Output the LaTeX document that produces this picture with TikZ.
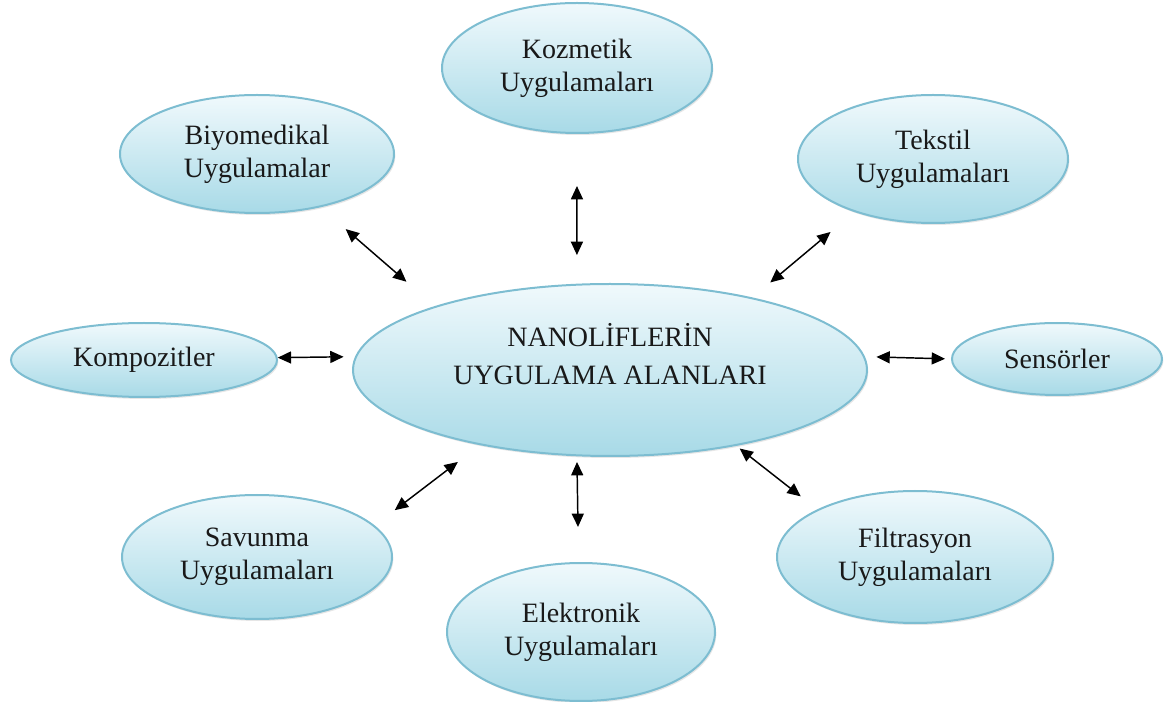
\documentclass[tikz,border=0pt]{standalone}
\usepackage{fontspec}
\setmainfont{Liberation Serif}
\usetikzlibrary{shapes.geometric, arrows.meta, shadows}

\definecolor{bubbletop}{HTML}{F0F9FC}
\definecolor{bubblebottom}{HTML}{A8DAE7}
\definecolor{bubbleline}{HTML}{7DBDD1}

\tikzset{
    bubble/.style={ellipse, draw=bubbleline, line width=1.5pt, top color=bubbletop, bottom color=bubblebottom,
        inner sep=0pt, align=center, text=black!90, font=\fontsize{21}{24.5}\selectfont,
        drop shadow={shadow xshift=1pt, shadow yshift=-1.5pt, opacity=.2}},
    link/.style={<->, >={Triangle[length=10pt,width=9pt]}, line width=1.1pt}
}

\begin{document}
\begin{tikzpicture}[x=0.75pt, y=-0.75pt]
    \useasboundingbox (0,0) rectangle (1165,702);

    \node[bubble, minimum width=385.5pt, minimum height=129pt, font=\fontsize{21}{28.5}\selectfont,
          text height=42pt, text depth=19.5pt] (main) at (610,370) {NANOLİFLERİN\\UYGULAMA ALANLARI};
    \node[bubble, minimum width=202.5pt, minimum height=97.5pt] (kozmetik)    at (577,68)   {Kozmetik\\Uygulamaları};
    \node[bubble, minimum width=205.5pt, minimum height=88.5pt] (biyomedikal) at (257,154)  {Biyomedikal\\Uygulamalar};
    \node[bubble, minimum width=202.5pt, minimum height=96pt]   (tekstil)     at (933,159)  {Tekstil\\Uygulamaları};
    \node[bubble, minimum width=199.5pt, minimum height=55.5pt] (kompozit)    at (144,360)  {Kompozitler};
    \node[bubble, minimum width=157.5pt, minimum height=54pt]   (sensor)      at (1057,359) {Sensörler};
    \node[bubble, minimum width=202.5pt, minimum height=93pt]   (savunma)     at (257,557)  {Savunma\\Uygulamaları};
    \node[bubble, minimum width=201pt,   minimum height=103.5pt] (elektronik) at (581,632)  {Elektronik\\Uygulamaları};
    \node[bubble, minimum width=207pt,   minimum height=99pt]   (filtrasyon)  at (915,557)  {Filtrasyon\\Uygulamaları};

    \draw[link, shorten <=39pt,   shorten >=21.5pt] (kozmetik.-90)   -- (main.111);
    \draw[link, shorten <=25pt,   shorten >=28pt]   (biyomedikal.-40) -- (main.160);
    \draw[link, shorten <=23.3pt, shorten >=17.5pt] (tekstil.-146)   -- (main.27);
    \draw[link, shorten <=0pt,    shorten >=8.6pt]  (kompozit.1)     -- (main.177);
    \draw[link, shorten <=4.5pt,  shorten >=8.6pt]  (sensor.180)     -- (main.3);
    \draw[link, shorten <=18.9pt, shorten >=20.8pt] (savunma.15)     -- (main.-150);
    \draw[link, shorten <=26.3pt, shorten >=4.3pt]  (elektronik.92)  -- (main.-111);
    \draw[link, shorten <=15.8pt, shorten >=3.2pt]  (filtrasyon.154) -- (main.-31);
\end{tikzpicture}
\end{document}
